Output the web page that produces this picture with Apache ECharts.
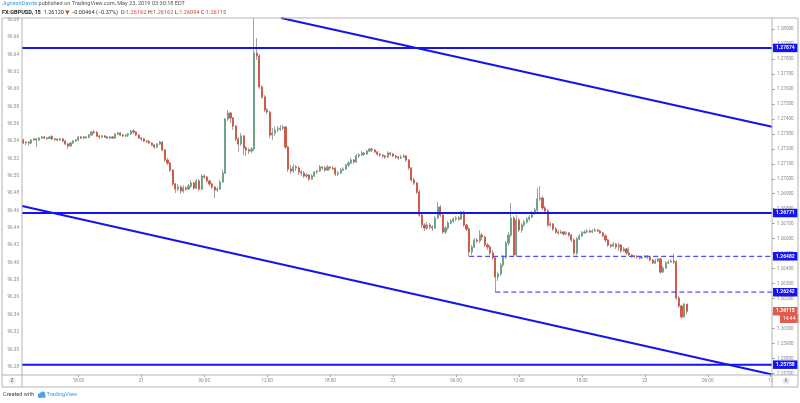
<!DOCTYPE html>
<html>
<head>
<meta charset="utf-8">
<script src="https://cdn.jsdelivr.net/npm/echarts@6/dist/echarts.min.js"></script>
<style>
html,body{margin:0;padding:0;background:#fff;}
#c{width:800px;height:403px;}
</style>
</head>
<body>
<div id="c"></div>
<script>
// ---- DATA ----
const startTime = Date.UTC(2019, 4, 20, 12, 45);   // first 15-minute bar
const barCount = 286;                                // time slots shown on the axis
const tickTimes = ['2019-05-20 18:00','2019-05-21 00:00','2019-05-21 06:00','2019-05-21 12:00','2019-05-21 18:00','2019-05-22 00:00','2019-05-22 06:00','2019-05-22 12:00','2019-05-22 18:00','2019-05-23 00:00','2019-05-23 06:00','2019-05-23 12:00'];
const tickLabels = ['18:00','21','06:00','12:00','18:00','22','06:00','12:00','18:00','23','06:00','12'];

// GBPUSD 15m candles: [open, close, low, high]
const ohlc = [
[1.27259,1.27239,1.27232,1.27266],[1.27239,1.27245,1.27225,1.27252],[1.27245,1.27239,1.27219,1.27252],[1.27239,1.27259,1.27232,1.27266],
[1.27259,1.27266,1.27252,1.27272],[1.27266,1.27259,1.27212,1.27272],[1.27259,1.27272,1.27252,1.27279],[1.27272,1.27279,1.27266,1.27286],
[1.27279,1.27272,1.27266,1.27286],[1.27272,1.27269,1.27259,1.27279],[1.27269,1.27279,1.27266,1.27286],[1.27282,1.27266,1.27259,1.27292],
[1.27266,1.27264,1.27252,1.27272],[1.27264,1.27259,1.27252,1.27272],[1.27259,1.27266,1.27252,1.27272],[1.27266,1.27252,1.27245,1.27272],
[1.27252,1.27232,1.27225,1.27259],[1.27232,1.27219,1.27199,1.27239],[1.27219,1.27239,1.27212,1.27245],[1.27239,1.27252,1.27232,1.27259],
[1.27252,1.27259,1.27245,1.27266],[1.27259,1.27279,1.27252,1.27286],[1.27279,1.27272,1.27266,1.27286],[1.27272,1.27279,1.27266,1.27286],
[1.27279,1.27276,1.27269,1.27286],[1.27276,1.27292,1.27272,1.27299],[1.27292,1.27312,1.27286,1.27319],[1.27312,1.27309,1.27299,1.27326],
[1.27309,1.27286,1.27279,1.27319],[1.27286,1.27279,1.27266,1.27292],[1.27279,1.27286,1.27272,1.27292],[1.27286,1.27279,1.27272,1.27292],
[1.27279,1.27272,1.27266,1.27286],[1.27272,1.27279,1.27266,1.27286],[1.27279,1.27272,1.27266,1.27286],[1.27272,1.27299,1.27266,1.27306],
[1.27299,1.27306,1.27292,1.27312],[1.27306,1.27292,1.27286,1.27312],[1.27292,1.27286,1.27279,1.27299],[1.27286,1.27292,1.27279,1.27299],
[1.27292,1.27299,1.27279,1.27306],[1.27299,1.27319,1.27292,1.27326],[1.27319,1.27312,1.27299,1.27332],[1.27312,1.27292,1.27286,1.27319],
[1.27292,1.27272,1.27266,1.27299],[1.27272,1.27266,1.27252,1.27279],[1.27266,1.27252,1.27245,1.27272],[1.27252,1.27249,1.27239,1.27259],
[1.27249,1.27239,1.27232,1.27259],[1.27239,1.27225,1.27219,1.27245],[1.27225,1.27212,1.27199,1.27232],[1.27212,1.27232,1.27205,1.27239],
[1.27232,1.27245,1.27225,1.27252],[1.27245,1.27192,1.27185,1.27252],[1.27192,1.27125,1.27112,1.27199],[1.27125,1.27105,1.27092,1.27139],
[1.27105,1.27058,1.27045,1.27112],[1.27058,1.26965,1.26951,1.27065],[1.26965,1.26931,1.26905,1.26972],[1.26931,1.26945,1.26918,1.26965],
[1.26945,1.26918,1.26898,1.26958],[1.26918,1.26938,1.26905,1.26958],[1.26938,1.26931,1.26918,1.26951],[1.26931,1.26951,1.26925,1.26965],
[1.26951,1.26972,1.26938,1.26992],[1.26972,1.26938,1.26925,1.26978],[1.26938,1.26985,1.26931,1.26998],[1.26985,1.26931,1.26918,1.26998],
[1.26931,1.27018,1.26925,1.27032],[1.27018,1.27012,1.26998,1.27032],[1.27012,1.26985,1.26972,1.27018],[1.26985,1.26965,1.26951,1.26992],
[1.26965,1.26945,1.26931,1.26972],[1.26945,1.26925,1.26871,1.26951],[1.26925,1.26931,1.26911,1.26945],[1.26931,1.26978,1.26925,1.26992],
[1.26978,1.27038,1.26972,1.27058],[1.27038,1.27399,1.27032,1.27406],[1.27399,1.27439,1.27386,1.27459],[1.27439,1.27406,1.27372,1.27446],
[1.27406,1.27352,1.27326,1.27412],[1.27352,1.27266,1.27252,1.27359],[1.27266,1.27232,1.27179,1.27279],[1.27232,1.27286,1.27219,1.27306],
[1.27286,1.27205,1.27159,1.27292],[1.27205,1.27192,1.27152,1.27219],[1.27192,1.27185,1.27165,1.27205],[1.27185,1.27199,1.27172,1.27212],
[1.27199,1.27840,1.27185,1.28072],[1.27840,1.27820,1.27793,1.27940],[1.27820,1.27613,1.27599,1.27833],[1.27613,1.27546,1.27533,1.27626],
[1.27546,1.27459,1.27446,1.27559],[1.27459,1.27446,1.27432,1.27473],[1.27446,1.27292,1.27272,1.27452],[1.27292,1.27306,1.27259,1.27339],
[1.27306,1.27326,1.27286,1.27352],[1.27326,1.27332,1.27312,1.27352],[1.27332,1.27339,1.27319,1.27359],[1.27339,1.27346,1.27326,1.27359],
[1.27346,1.27212,1.27199,1.27352],[1.27212,1.27065,1.27045,1.27219],[1.27065,1.27052,1.27032,1.27092],[1.27052,1.27078,1.27038,1.27098],
[1.27078,1.27072,1.27052,1.27092],[1.27072,1.27045,1.27025,1.27085],[1.27045,1.27038,1.27018,1.27058],[1.27038,1.27018,1.27005,1.27052],
[1.27018,1.27025,1.27005,1.27038],[1.27025,1.26998,1.26985,1.27032],[1.26998,1.27018,1.26992,1.27032],[1.27018,1.27045,1.27012,1.27052],
[1.27045,1.27052,1.27032,1.27058],[1.27052,1.27078,1.27045,1.27092],[1.27078,1.27072,1.27058,1.27085],[1.27072,1.27058,1.27045,1.27085],
[1.27058,1.27078,1.27052,1.27092],[1.27078,1.27072,1.27058,1.27085],[1.27072,1.27068,1.27058,1.27085],[1.27068,1.27032,1.27018,1.27078],
[1.27032,1.27038,1.27018,1.27052],[1.27038,1.27058,1.27032,1.27072],[1.27058,1.27065,1.27052,1.27078],[1.27065,1.27092,1.27058,1.27098],
[1.27092,1.27105,1.27078,1.27119],[1.27105,1.27125,1.27098,1.27139],[1.27125,1.27112,1.27098,1.27132],[1.27112,1.27152,1.27105,1.27165],
[1.27152,1.27159,1.27139,1.27172],[1.27159,1.27172,1.27152,1.27185],[1.27172,1.27165,1.27152,1.27179],[1.27165,1.27185,1.27159,1.27192],
[1.27185,1.27199,1.27179,1.27205],[1.27199,1.27192,1.27179,1.27205],[1.27192,1.27179,1.27172,1.27199],[1.27179,1.27165,1.27152,1.27185],
[1.27165,1.27159,1.27145,1.27172],[1.27159,1.27152,1.27139,1.27165],[1.27152,1.27145,1.27132,1.27159],[1.27145,1.27172,1.27139,1.27185],
[1.27172,1.27165,1.27152,1.27179],[1.27165,1.27152,1.27145,1.27172],[1.27152,1.27145,1.27132,1.27159],[1.27145,1.27139,1.27125,1.27152],
[1.27139,1.27145,1.27132,1.27159],[1.27145,1.27152,1.27139,1.27165],[1.27152,1.27125,1.27112,1.27159],[1.27125,1.27072,1.27058,1.27132],
[1.27072,1.26992,1.26978,1.27078],[1.26992,1.26972,1.26958,1.27005],[1.26972,1.26911,1.26898,1.26978],[1.26911,1.26758,1.26744,1.26925],
[1.26758,1.26691,1.26671,1.26771],[1.26691,1.26671,1.26651,1.26704],[1.26671,1.26691,1.26658,1.26711],[1.26691,1.26678,1.26664,1.26704],
[1.26678,1.26671,1.26651,1.26691],[1.26671,1.26738,1.26664,1.26751],[1.26738,1.26811,1.26731,1.26845],[1.26811,1.26758,1.26744,1.26825],
[1.26758,1.26644,1.26631,1.26771],[1.26644,1.26671,1.26631,1.26684],[1.26671,1.26704,1.26658,1.26718],[1.26704,1.26718,1.26698,1.26731],
[1.26718,1.26731,1.26704,1.26744],[1.26731,1.26738,1.26718,1.26751],[1.26738,1.26731,1.26718,1.26751],[1.26731,1.26778,1.26724,1.26785],
[1.26778,1.26691,1.26678,1.26785],[1.26691,1.26664,1.26651,1.26698],[1.26664,1.26511,1.26482,1.26678],[1.26511,1.26544,1.26491,1.26557],
[1.26544,1.26591,1.26537,1.26604],[1.26591,1.26584,1.26571,1.26604],[1.26584,1.26624,1.26571,1.26658],[1.26624,1.26611,1.26591,1.26638],
[1.26611,1.26557,1.26544,1.26618],[1.26557,1.26544,1.26524,1.26571],[1.26544,1.26504,1.26491,1.26557],[1.26504,1.26471,1.26457,1.26524],
[1.26471,1.26344,1.26242,1.26484],[1.26344,1.26364,1.26317,1.26377],[1.26364,1.26424,1.26350,1.26437],[1.26424,1.26477,1.26410,1.26491],
[1.26477,1.26571,1.26464,1.26584],[1.26571,1.26624,1.26551,1.26644],[1.26624,1.26738,1.26611,1.26838],[1.26738,1.26491,1.26477,1.26751],
[1.26491,1.26724,1.26477,1.26758],[1.26724,1.26658,1.26644,1.26738],[1.26658,1.26691,1.26638,1.26704],[1.26691,1.26711,1.26678,1.26724],
[1.26711,1.26731,1.26698,1.26744],[1.26731,1.26744,1.26718,1.26758],[1.26744,1.26771,1.26738,1.26785],[1.26771,1.26791,1.26758,1.26805],
[1.26791,1.26865,1.26778,1.26938],[1.26865,1.26871,1.26851,1.26951],[1.26871,1.26805,1.26791,1.26885],[1.26805,1.26785,1.26765,1.26818],
[1.26785,1.26691,1.26678,1.26798],[1.26691,1.26698,1.26678,1.26711],[1.26698,1.26664,1.26651,1.26704],[1.26664,1.26644,1.26631,1.26678],
[1.26644,1.26638,1.26624,1.26658],[1.26638,1.26644,1.26631,1.26658],[1.26644,1.26631,1.26618,1.26651],[1.26631,1.26638,1.26624,1.26651],
[1.26638,1.26624,1.26611,1.26644],[1.26624,1.26591,1.26577,1.26631],[1.26591,1.26504,1.26491,1.26604],[1.26504,1.26598,1.26491,1.26611],
[1.26598,1.26618,1.26591,1.26631],[1.26618,1.26638,1.26611,1.26651],[1.26638,1.26644,1.26631,1.26658],[1.26644,1.26651,1.26638,1.26664],
[1.26651,1.26644,1.26638,1.26664],[1.26644,1.26651,1.26638,1.26664],[1.26651,1.26658,1.26644,1.26671],[1.26658,1.26651,1.26644,1.26664],
[1.26651,1.26638,1.26631,1.26658],[1.26638,1.26618,1.26611,1.26644],[1.26618,1.26591,1.26577,1.26631],[1.26591,1.26557,1.26544,1.26598],
[1.26557,1.26551,1.26537,1.26564],[1.26551,1.26564,1.26544,1.26577],[1.26564,1.26544,1.26531,1.26571],[1.26544,1.26557,1.26517,1.26571],
[1.26557,1.26517,1.26504,1.26564],[1.26517,1.26531,1.26511,1.26544],[1.26531,1.26504,1.26491,1.26537],[1.26504,1.26491,1.26484,1.26544],
[1.26491,1.26484,1.26471,1.26497],[1.26484,1.26481,1.26471,1.26491],[1.26481,1.26477,1.26464,1.26491],[1.26477,1.26471,1.26461,1.26484],
[1.26471,1.26474,1.26464,1.26484],[1.26474,1.26484,1.26471,1.26491],[1.26484,1.26477,1.26464,1.26491],[1.26477,1.26457,1.26450,1.26484],
[1.26457,1.26437,1.26430,1.26464],[1.26437,1.26450,1.26430,1.26464],[1.26450,1.26464,1.26444,1.26471],[1.26464,1.26377,1.26364,1.26471],
[1.26377,1.26404,1.26370,1.26417],[1.26404,1.26437,1.26397,1.26450],[1.26437,1.26444,1.26430,1.26457],[1.26444,1.26450,1.26437,1.26464],
[1.26450,1.26444,1.26430,1.26497],[1.26444,1.26203,1.26190,1.26457],[1.26203,1.26150,1.26137,1.26217],[1.26150,1.26078,1.26063,1.26157],
[1.26078,1.26162,1.26072,1.26170],[1.26162,1.26115,1.26094,1.26162]
];

// Drawn levels (price) and where the dashed ones start (bar time)
const solidLevels = [1.27874, 1.26771, 1.25758];
const dashedLevels = [1.26482, 1.26242];
const dashedStart = ['2019-05-22 07:15', '2019-05-22 09:45'];
// Trend lines: [barIndex, price] end points
const trendLines = [
  [[98.3, 1.28074], [285.5, 1.27348]],
  [[-0.5, 1.26818], [285.5, 1.25692]]
];
const lastPrice = 1.26115;
const countdown = '14:44';
// Axis ranges (left: index scale, right: price scale)
const leftRange = [96.2704, 96.6823];
const rightRange = [1.25689, 1.28074];

// ---- BUILD ----
function fmt(t){
  const d = new Date(t);
  const p = n => String(n).padStart(2,'0');
  return d.getUTCFullYear()+'-'+p(d.getUTCMonth()+1)+'-'+p(d.getUTCDate())+' '+p(d.getUTCHours())+':'+p(d.getUTCMinutes());
}
const categories = [];
for (let i = 0; i < barCount; i++) categories.push(fmt(startTime + i*15*60000));
const xMax = barCount - 0.5;

const UP = '#6ba583', DOWN = '#d75442', BLUE = '#1414ee', FONT = 'Roboto, "DejaVu Sans", sans-serif';
const bodies = ohlc.map(([o,c]) => [o, c, Math.min(o,c), Math.max(o,c)]);

const labelBox = (bg) => ({
  show: true, distance: 1, color: '#fff', backgroundColor: bg, fontSize: 5, fontWeight: 'bold',
  fontFamily: FONT, padding: [1.5, 3, 1, 3], lineHeight: 6
});

const series = [
  { type: 'candlestick', xAxisIndex: 0, yAxisIndex: 1, data: ohlc, barWidth: 1.6, z: 3, clip: true,
    itemStyle: { color: UP, color0: DOWN, borderColor: '#a3a3a3', borderColor0: '#a3a3a3', borderWidth: 1 } },
  { type: 'candlestick', xAxisIndex: 0, yAxisIndex: 1, data: bodies, barWidth: 1.6, z: 4, clip: true,
    itemStyle: { color: UP, color0: DOWN, borderColor: UP, borderColor0: DOWN, borderWidth: 0.8 } }
];
solidLevels.forEach(v => series.push({
  type: 'line', xAxisIndex: 1, yAxisIndex: 1, symbol: 'none', z: 5, silent: true,
  data: [[-0.5, v], [xMax, v]], lineStyle: { color: BLUE, width: 2 },
  endLabel: Object.assign(labelBox(BLUE), { formatter: () => v.toFixed(5) })
}));
dashedLevels.forEach((v, k) => series.push({
  type: 'line', xAxisIndex: 1, yAxisIndex: 1, symbol: 'none', z: 5, silent: true,
  data: [[categories.indexOf(dashedStart[k]), v], [xMax, v]],
  lineStyle: { color: '#5050f5', width: 1.3, type: [5, 3] },
  endLabel: Object.assign(labelBox(BLUE), { formatter: () => v.toFixed(5) })
}));
trendLines.forEach(tl => series.push({
  type: 'line', xAxisIndex: 1, yAxisIndex: 1, symbol: 'none', z: 5, silent: true, clip: true,
  data: tl, lineStyle: { color: BLUE, width: 2 }
}));
series.push({
  type: 'line', xAxisIndex: 1, yAxisIndex: 1, symbol: 'none', z: 6, silent: true,
  data: [[ohlc.length - 1, lastPrice], [xMax, lastPrice]], lineStyle: { opacity: 0 },
  endLabel: Object.assign(labelBox('#e25c4e'), { formatter: () => lastPrice.toFixed(5) })
});
series.push({
  type: 'line', xAxisIndex: 1, yAxisIndex: 1, symbol: 'none', z: 6, silent: true,
  data: [[ohlc.length - 1, lastPrice], [xMax, lastPrice]], lineStyle: { opacity: 0 },
  endLabel: Object.assign(labelBox('#e25c4e'), { formatter: () => countdown, offset: [7, 7.5], fontWeight: 'normal' })
});

const axisText = { color: '#8a8a8a', fontSize: 4.6, fontFamily: FONT };
const LINE = '#b4b4b4';

const option = {
  animation: false,
  backgroundColor: '#fff',
  textStyle: { fontFamily: FONT },
  title: [
    { left: 2, top: 1, padding: 0,
      text: '{a|JigneshDavda}{b| published on TradingView.com, May 23, 2019 03:30:18 EDT}',
      textStyle: { fontWeight: 'normal', rich: { a: { color: '#3d9be9', fontSize: 5.6, fontWeight: 'normal', fontFamily: FONT }, b: { color: '#555', fontSize: 5.6, fontWeight: 'normal', fontFamily: FONT } } } },
    { left: 2, top: 9.5, padding: 0,
      text: '{k|FX:GBPUSD, 15}{v|  1.26120 }{r|▼}{v| −0.00464 (−0.37%)  O:}{r|1.26162}{v| H:}{r|1.26162}{v| L:}{r|1.26094}{v| C:}{r|1.26115}',
      textStyle: { fontWeight: 'normal', rich: {
        k: { color: '#222', fontSize: 5.6, fontWeight: 'bold', fontFamily: FONT },
        v: { color: '#333', fontSize: 5.6, fontWeight: 'normal', fontFamily: FONT },
        r: { color: '#d2473a', fontSize: 5.6, fontWeight: 'normal', fontFamily: FONT } } } }
  ],
  grid: { left: 22, right: 28, top: 18, bottom: 28, containLabel: false },
  xAxis: [
    { type: 'category', data: categories, gridIndex: 0, boundaryGap: true,
      axisLine: { show: false },
      axisTick: { show: true, alignWithLabel: true, length: 2, lineStyle: { color: '#999' },
        interval: (i, v) => tickTimes.includes(v) },
      axisLabel: Object.assign({}, axisText, { margin: 3.5,
        interval: (i, v) => tickTimes.includes(v),
        formatter: v => tickLabels[tickTimes.indexOf(v)] || '' }),
      splitLine: { show: false } },
    { type: 'value', gridIndex: 0, min: -0.5, max: xMax, show: false }
  ],
  yAxis: [
    { type: 'value', position: 'left', min: leftRange[0], max: leftRange[1],
      minInterval: 0.02, maxInterval: 0.02, scale: true,
      axisLine: { show: false }, axisTick: { show: false }, splitLine: { show: false },
      axisLabel: Object.assign({}, axisText, { margin: 3, showMinLabel: false, showMaxLabel: false,
        formatter: v => v.toFixed(2) }) },
    { type: 'value', position: 'right', min: rightRange[0], max: rightRange[1],
      minInterval: 0.001, maxInterval: 0.001, scale: true,
      axisLine: { show: false }, splitLine: { show: false },
      axisTick: { show: true, length: 2.5, lineStyle: { color: '#999' } },
      axisLabel: Object.assign({}, axisText, { margin: 5, showMinLabel: false, showMaxLabel: false,
        formatter: v => v.toFixed(5) }) }
  ],
  series: series,
  graphic: [
    { type: 'rect', shape: { x: 2, y: 18, width: 796, height: 369 }, style: { fill: 'none', stroke: LINE, lineWidth: 1 }, z: 10, silent: true },
    { type: 'line', shape: { x1: 22, y1: 18, x2: 22, y2: 387 }, style: { stroke: LINE, lineWidth: 1 }, z: 10, silent: true },
    { type: 'line', shape: { x1: 772, y1: 18, x2: 772, y2: 387 }, style: { stroke: LINE, lineWidth: 1 }, z: 10, silent: true },
    { type: 'line', shape: { x1: 2, y1: 375, x2: 798, y2: 375 }, style: { stroke: LINE, lineWidth: 1 }, z: 10, silent: true },
    { type: 'circle', shape: { cx: 12, cy: 381, r: 3.6 }, style: { fill: '#e9ebf0' }, z: 10, silent: true },
    { type: 'text', x: 12, y: 381, style: { text: 'Z', fill: '#666', fontSize: 4.5, fontFamily: FONT, align: 'center', verticalAlign: 'middle' }, z: 11, silent: true },
    { type: 'circle', shape: { cx: 786, cy: 381, r: 3.6 }, style: { fill: '#e9ebf0' }, z: 10, silent: true },
    { type: 'text', x: 786, y: 381, style: { text: 'A', fill: '#666', fontSize: 4.5, fontFamily: FONT, align: 'center', verticalAlign: 'middle' }, z: 11, silent: true },
    { type: 'text', x: 3, y: 395, style: { text: 'Created with', fill: '#444', fontSize: 5.6, fontFamily: FONT, verticalAlign: 'middle' }, silent: true },
    { type: 'circle', shape: { cx: 40, cy: 395.5, r: 2.2 }, style: { fill: '#4aa3e8' }, silent: true },
    { type: 'circle', shape: { cx: 42.6, cy: 394.2, r: 2.6 }, style: { fill: '#4aa3e8' }, silent: true },
    { type: 'rect', shape: { x: 38.5, y: 395.5, width: 7, height: 2.2 }, style: { fill: '#4aa3e8' }, silent: true },
    { type: 'text', x: 46.5, y: 395, style: { text: 'TradingView', fill: '#3d9be9', fontSize: 5.6, fontFamily: FONT, verticalAlign: 'middle' }, silent: true }
  ]
};

const chart = echarts.init(document.getElementById('c'), null, { renderer: 'canvas' });
chart.setOption(option);
</script>
</body>
</html>
